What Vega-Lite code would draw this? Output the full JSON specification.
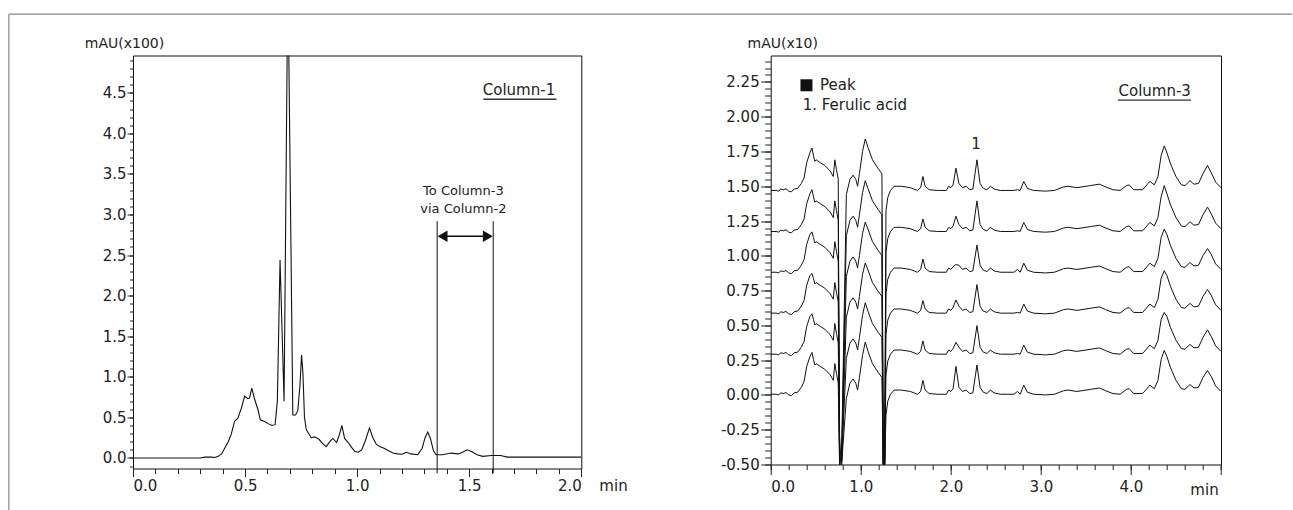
{
"$schema":"https://vega.github.io/schema/vega-lite/v6.json",
"padding":{"left":7,"top":12.5,"right":0,"bottom":0},
"background":"white",
"bounds":"flush",
"spacing":188.7,
"config":{
 "font":"DejaVu Sans",
 "view":{"stroke":"#111","strokeWidth":1},
 "axis":{"labelFont":"DejaVu Sans","labelFontSize":15,"labelColor":"#222","tickColor":"#222","titleFont":"DejaVu Sans","titleFontWeight":"normal","titleColor":"#222","titleFontSize":14,"grid":false,"domain":false},
 "text":{"font":"DejaVu Sans","color":"#222"}
},
"datasets":{
 "one":[{}],
 "left":[
  {"x":0,"y":0},{"x":0.3,"y":0},{"x":0.32,"y":0.01},{"x":0.35,"y":0.01},{"x":0.365,"y":0.005},{"x":0.38,"y":0.02},{"x":0.395,"y":0.05},{"x":0.409,"y":0.12},{"x":0.425,"y":0.2},{"x":0.438,"y":0.29},{"x":0.453,"y":0.45},{"x":0.468,"y":0.49},{"x":0.483,"y":0.61},{"x":0.498,"y":0.76},{"x":0.512,"y":0.73},{"x":0.52,"y":0.74},{"x":0.53,"y":0.86},{"x":0.543,"y":0.72},{"x":0.557,"y":0.6},{"x":0.568,"y":0.47},{"x":0.587,"y":0.45},{"x":0.605,"y":0.42},{"x":0.62,"y":0.4},{"x":0.634,"y":0.41},{"x":0.644,"y":0.7},{"x":0.656,"y":2.44},{"x":0.674,"y":0.7},{"x":0.691,"y":6.0},{"x":0.713,"y":0.53},{"x":0.725,"y":0.53},{"x":0.735,"y":0.58},{"x":0.745,"y":0.9},{"x":0.752,"y":1.27},{"x":0.758,"y":1.05},{"x":0.765,"y":0.5},{"x":0.773,"y":0.35},{"x":0.795,"y":0.25},{"x":0.81,"y":0.26},{"x":0.83,"y":0.23},{"x":0.845,"y":0.18},{"x":0.862,"y":0.14},{"x":0.878,"y":0.2},{"x":0.892,"y":0.24},{"x":0.908,"y":0.19},{"x":0.92,"y":0.28},{"x":0.932,"y":0.4},{"x":0.944,"y":0.24},{"x":0.96,"y":0.19},{"x":0.975,"y":0.13},{"x":0.99,"y":0.08},{"x":1.005,"y":0.07},{"x":1.02,"y":0.1},{"x":1.035,"y":0.2},{"x":1.055,"y":0.37},{"x":1.07,"y":0.25},{"x":1.085,"y":0.17},{"x":1.1,"y":0.14},{"x":1.12,"y":0.12},{"x":1.14,"y":0.09},{"x":1.16,"y":0.06},{"x":1.18,"y":0.05},{"x":1.2,"y":0.045},{"x":1.22,"y":0.07},{"x":1.24,"y":0.05},{"x":1.27,"y":0.04},{"x":1.29,"y":0.12},{"x":1.303,"y":0.25},{"x":1.315,"y":0.32},{"x":1.327,"y":0.24},{"x":1.34,"y":0.09},{"x":1.352,"y":0.04},{"x":1.38,"y":0.04},{"x":1.42,"y":0.06},{"x":1.45,"y":0.05},{"x":1.47,"y":0.07},{"x":1.49,"y":0.1},{"x":1.51,"y":0.08},{"x":1.535,"y":0.04},{"x":1.56,"y":0.02},{"x":1.6,"y":0.03},{"x":1.64,"y":0.03},{"x":1.67,"y":0.01},{"x":2.0,"y":0.01}
 ],
 "right":[
  {"x":0,"a":1.47,"b":1.175,"c":0.882,"d":0.588,"e":0.293,"f":0.005},
  {"x":0.06,"a":1.47,"b":1.175,"c":0.882,"d":0.588,"e":0.293,"f":0.005},
  {"x":0.09,"a":1.465,"b":1.17,"c":0.877,"d":0.583,"e":0.288,"f":0},
  {"x":0.11,"a":1.48,"b":1.185,"c":0.892,"d":0.598,"e":0.303,"f":0.015},
  {"x":0.14,"a":1.475,"b":1.18,"c":0.887,"d":0.593,"e":0.298,"f":0.01},
  {"x":0.17,"a":1.482,"b":1.187,"c":0.894,"d":0.6,"e":0.305,"f":0.017},
  {"x":0.2,"a":1.465,"b":1.17,"c":0.877,"d":0.583,"e":0.288,"f":0},
  {"x":0.23,"a":1.46,"b":1.165,"c":0.872,"d":0.578,"e":0.283,"f":-0.005},
  {"x":0.26,"a":1.48,"b":1.185,"c":0.892,"d":0.598,"e":0.303,"f":0.015},
  {"x":0.3,"a":1.485,"b":1.19,"c":0.897,"d":0.603,"e":0.308,"f":0.02},
  {"x":0.34,"a":1.52,"b":1.225,"c":0.932,"d":0.638,"e":0.343,"f":0.055},
  {"x":0.37,"a":1.56,"b":1.265,"c":0.972,"d":0.678,"e":0.383,"f":0.095},
  {"x":0.4,"a":1.67,"b":1.375,"c":1.082,"d":0.788,"e":0.493,"f":0.205},
  {"x":0.435,"a":1.74,"b":1.445,"c":1.152,"d":0.858,"e":0.563,"f":0.275},
  {"x":0.458,"a":1.775,"b":1.475,"c":1.172,"d":0.873,"e":0.583,"f":0.305},
  {"x":0.475,"a":1.72,"b":1.425,"c":1.132,"d":0.838,"e":0.543,"f":0.255},
  {"x":0.49,"a":1.68,"b":1.385,"c":1.092,"d":0.798,"e":0.503,"f":0.215},
  {"x":0.505,"a":1.69,"b":1.395,"c":1.102,"d":0.808,"e":0.513,"f":0.225},
  {"x":0.55,"a":1.67,"b":1.375,"c":1.082,"d":0.788,"e":0.493,"f":0.205},
  {"x":0.6,"a":1.65,"b":1.355,"c":1.062,"d":0.768,"e":0.473,"f":0.185},
  {"x":0.66,"a":1.61,"b":1.315,"c":1.022,"d":0.728,"e":0.433,"f":0.145},
  {"x":0.695,"a":1.57,"b":1.275,"c":0.982,"d":0.688,"e":0.393,"f":0.105},
  {"x":0.712,"a":1.69,"b":1.395,"c":1.102,"d":0.808,"e":0.513,"f":0.225},
  {"x":0.73,"a":1.62,"b":1.325,"c":1.032,"d":0.738,"e":0.443,"f":0.155},
  {"x":0.75,"a":1.55,"b":1.255,"c":0.962,"d":0.668,"e":0.373,"f":0.085},
  {"x":0.765,"a":-0.52,"b":-0.52,"c":-0.3,"d":-0.52,"e":-0.4,"f":-0.52},
  {"x":0.785,"a":-0.52,"b":-0.52,"c":-0.52,"d":-0.52,"e":-0.52,"f":-0.52},
  {"x":0.84,"a":1.44,"b":1.145,"c":0.852,"d":0.558,"e":0.263,"f":-0.025},
  {"x":0.88,"a":1.55,"b":1.255,"c":0.962,"d":0.668,"e":0.373,"f":0.085},
  {"x":0.915,"a":1.58,"b":1.285,"c":0.992,"d":0.698,"e":0.403,"f":0.115},
  {"x":0.945,"a":1.55,"b":1.255,"c":0.962,"d":0.668,"e":0.373,"f":0.085},
  {"x":0.965,"a":1.5,"b":1.205,"c":0.912,"d":0.618,"e":0.323,"f":0.035},
  {"x":0.985,"a":1.59,"b":1.295,"c":1.002,"d":0.708,"e":0.413,"f":0.125},
  {"x":1.02,"a":1.75,"b":1.455,"c":1.162,"d":0.868,"e":0.573,"f":0.285},
  {"x":1.05,"a":1.84,"b":1.54,"c":1.242,"d":0.948,"e":0.663,"f":0.38},
  {"x":1.08,"a":1.78,"b":1.485,"c":1.192,"d":0.898,"e":0.603,"f":0.315},
  {"x":1.13,"a":1.69,"b":1.395,"c":1.102,"d":0.808,"e":0.513,"f":0.225},
  {"x":1.19,"a":1.63,"b":1.335,"c":1.042,"d":0.748,"e":0.453,"f":0.165},
  {"x":1.235,"a":1.59,"b":1.295,"c":1.002,"d":0.708,"e":0.413,"f":0.125},
  {"x":1.25,"a":-0.52,"b":-0.52,"c":-0.52,"d":-0.52,"e":-0.52,"f":-0.52},
  {"x":1.265,"a":-0.52,"b":-0.52,"c":-0.52,"d":-0.52,"e":-0.52,"f":-0.52},
  {"x":1.28,"a":1.32,"b":1.025,"c":0.732,"d":0.438,"e":0.143,"f":-0.145},
  {"x":1.3,"a":1.42,"b":1.125,"c":0.832,"d":0.538,"e":0.243,"f":-0.045},
  {"x":1.33,"a":1.47,"b":1.175,"c":0.882,"d":0.588,"e":0.293,"f":0.005},
  {"x":1.37,"a":1.5,"b":1.205,"c":0.912,"d":0.618,"e":0.323,"f":0.035},
  {"x":1.45,"a":1.5,"b":1.205,"c":0.912,"d":0.618,"e":0.323,"f":0.035},
  {"x":1.55,"a":1.49,"b":1.195,"c":0.902,"d":0.608,"e":0.313,"f":0.025},
  {"x":1.63,"a":1.47,"b":1.175,"c":0.882,"d":0.588,"e":0.293,"f":0.005},
  {"x":1.665,"a":1.49,"b":1.195,"c":0.902,"d":0.608,"e":0.313,"f":0.025},
  {"x":1.69,"a":1.57,"b":1.265,"c":0.977,"d":0.678,"e":0.388,"f":0.105},
  {"x":1.715,"a":1.5,"b":1.205,"c":0.912,"d":0.618,"e":0.323,"f":0.035},
  {"x":1.76,"a":1.475,"b":1.18,"c":0.887,"d":0.593,"e":0.298,"f":0.01},
  {"x":1.85,"a":1.47,"b":1.175,"c":0.882,"d":0.588,"e":0.293,"f":0.005},
  {"x":1.95,"a":1.47,"b":1.175,"c":0.882,"d":0.588,"e":0.293,"f":0.005},
  {"x":1.975,"a":1.5,"b":1.205,"c":0.912,"d":0.618,"e":0.323,"f":0.035},
  {"x":2.0,"a":1.49,"b":1.195,"c":0.902,"d":0.608,"e":0.313,"f":0.025},
  {"x":2.025,"a":1.51,"b":1.215,"c":0.922,"d":0.628,"e":0.333,"f":0.045},
  {"x":2.057,"a":1.63,"b":1.285,"c":0.937,"d":0.683,"e":0.378,"f":0.205},
  {"x":2.09,"a":1.52,"b":1.225,"c":0.932,"d":0.638,"e":0.343,"f":0.055},
  {"x":2.13,"a":1.49,"b":1.195,"c":0.902,"d":0.608,"e":0.313,"f":0.025},
  {"x":2.17,"a":1.5,"b":1.205,"c":0.912,"d":0.618,"e":0.323,"f":0.035},
  {"x":2.21,"a":1.475,"b":1.18,"c":0.887,"d":0.593,"e":0.298,"f":0.01},
  {"x":2.245,"a":1.48,"b":1.185,"c":0.892,"d":0.598,"e":0.303,"f":0.015},
  {"x":2.29,"a":1.69,"b":1.395,"c":1.077,"d":0.793,"e":0.498,"f":0.215},
  {"x":2.325,"a":1.52,"b":1.225,"c":0.932,"d":0.638,"e":0.343,"f":0.055},
  {"x":2.36,"a":1.485,"b":1.19,"c":0.897,"d":0.603,"e":0.308,"f":0.02},
  {"x":2.4,"a":1.475,"b":1.18,"c":0.887,"d":0.593,"e":0.298,"f":0.01},
  {"x":2.44,"a":1.5,"b":1.205,"c":0.912,"d":0.618,"e":0.323,"f":0.035},
  {"x":2.48,"a":1.48,"b":1.185,"c":0.892,"d":0.598,"e":0.303,"f":0.015},
  {"x":2.55,"a":1.47,"b":1.175,"c":0.882,"d":0.588,"e":0.293,"f":0.005},
  {"x":2.7,"a":1.47,"b":1.175,"c":0.882,"d":0.588,"e":0.293,"f":0.005},
  {"x":2.74,"a":1.475,"b":1.18,"c":0.902,"d":0.593,"e":0.298,"f":0.025},
  {"x":2.77,"a":1.47,"b":1.175,"c":0.882,"d":0.588,"e":0.293,"f":0.005},
  {"x":2.81,"a":1.535,"b":1.24,"c":0.947,"d":0.653,"e":0.358,"f":0.07},
  {"x":2.85,"a":1.485,"b":1.19,"c":0.897,"d":0.603,"e":0.308,"f":0.02},
  {"x":2.92,"a":1.47,"b":1.175,"c":0.882,"d":0.588,"e":0.293,"f":0.005},
  {"x":3.05,"a":1.465,"b":1.17,"c":0.877,"d":0.583,"e":0.288,"f":0},
  {"x":3.15,"a":1.47,"b":1.175,"c":0.882,"d":0.588,"e":0.293,"f":0.005},
  {"x":3.25,"a":1.495,"b":1.2,"c":0.907,"d":0.613,"e":0.318,"f":0.03},
  {"x":3.3,"a":1.5,"b":1.205,"c":0.912,"d":0.618,"e":0.323,"f":0.035},
  {"x":3.4,"a":1.49,"b":1.195,"c":0.902,"d":0.608,"e":0.313,"f":0.025},
  {"x":3.55,"a":1.505,"b":1.21,"c":0.917,"d":0.623,"e":0.328,"f":0.04},
  {"x":3.65,"a":1.515,"b":1.22,"c":0.927,"d":0.633,"e":0.338,"f":0.05},
  {"x":3.72,"a":1.495,"b":1.2,"c":0.907,"d":0.613,"e":0.318,"f":0.03},
  {"x":3.8,"a":1.475,"b":1.18,"c":0.887,"d":0.593,"e":0.298,"f":0.01},
  {"x":3.88,"a":1.47,"b":1.175,"c":0.882,"d":0.588,"e":0.293,"f":0.005},
  {"x":3.95,"a":1.505,"b":1.21,"c":0.917,"d":0.623,"e":0.328,"f":0.04},
  {"x":3.98,"a":1.51,"b":1.215,"c":0.922,"d":0.628,"e":0.333,"f":0.045},
  {"x":4.03,"a":1.475,"b":1.18,"c":0.887,"d":0.593,"e":0.298,"f":0.01},
  {"x":4.13,"a":1.475,"b":1.18,"c":0.887,"d":0.593,"e":0.298,"f":0.01},
  {"x":4.21,"a":1.535,"b":1.24,"c":0.947,"d":0.653,"e":0.358,"f":0.07},
  {"x":4.26,"a":1.51,"b":1.215,"c":0.922,"d":0.628,"e":0.333,"f":0.045},
  {"x":4.3,"a":1.57,"b":1.275,"c":0.982,"d":0.688,"e":0.393,"f":0.105},
  {"x":4.335,"a":1.72,"b":1.425,"c":1.132,"d":0.838,"e":0.543,"f":0.255},
  {"x":4.37,"a":1.79,"b":1.505,"c":1.192,"d":0.893,"e":0.593,"f":0.32},
  {"x":4.4,"a":1.74,"b":1.445,"c":1.152,"d":0.858,"e":0.563,"f":0.275},
  {"x":4.44,"a":1.66,"b":1.365,"c":1.072,"d":0.778,"e":0.483,"f":0.195},
  {"x":4.5,"a":1.57,"b":1.275,"c":0.982,"d":0.688,"e":0.393,"f":0.105},
  {"x":4.56,"a":1.51,"b":1.215,"c":0.922,"d":0.628,"e":0.333,"f":0.045},
  {"x":4.6,"a":1.505,"b":1.21,"c":0.917,"d":0.623,"e":0.328,"f":0.04},
  {"x":4.655,"a":1.54,"b":1.245,"c":0.952,"d":0.658,"e":0.363,"f":0.075},
  {"x":4.7,"a":1.515,"b":1.22,"c":0.927,"d":0.633,"e":0.338,"f":0.05},
  {"x":4.75,"a":1.52,"b":1.225,"c":0.932,"d":0.638,"e":0.343,"f":0.055},
  {"x":4.8,"a":1.59,"b":1.295,"c":1.002,"d":0.708,"e":0.413,"f":0.125},
  {"x":4.85,"a":1.65,"b":1.35,"c":1.052,"d":0.758,"e":0.468,"f":0.175},
  {"x":4.89,"a":1.6,"b":1.305,"c":1.012,"d":0.718,"e":0.423,"f":0.135},
  {"x":4.94,"a":1.53,"b":1.235,"c":0.942,"d":0.648,"e":0.353,"f":0.065},
  {"x":5.0,"a":1.49,"b":1.195,"c":0.902,"d":0.608,"e":0.313,"f":0.025}
 ]
},
"hconcat":[
 {
  "width":448.3,"height":413,
  "layer":[
   {"data":{"name":"left"},
    "mark":{"type":"line","color":"#111","strokeWidth":1.1,"clip":true},
    "encoding":{
     "x":{"field":"x","type":"quantitative","scale":{"domain":[0,2],"nice":false,"zero":false},
          "axis":{"orient":"bottom","values":[0,0.5,1,1.5,2],"format":".1f","tickSize":8,"labelPadding":2,"title":"min","titleX":480,"titleY":17,"titleAlign":"center","titleBaseline":"middle","titleFontSize":15}},
     "y":{"field":"y","type":"quantitative","scale":{"domain":[-0.13,4.96],"nice":false,"zero":false},
          "axis":{"orient":"left","values":[0,0.5,1,1.5,2,2.5,3,3.5,4,4.5],"format":".1f","tickSize":6,"labelPadding":1,"title":"mAU(x100)","titleAngle":0,"titleX":-48.7,"titleY":-11.6,"titleAlign":"left","titleBaseline":"middle"}}}},
   {"data":{"name":"left"},
    "mark":{"type":"point","opacity":0,"clip":true},
    "encoding":{
     "x":{"field":"x","type":"quantitative","axis":{"orient":"bottom","values":[0,0.1,0.2,0.3,0.4,0.5,0.6,0.7,0.8,0.9,1,1.1,1.2,1.3,1.4,1.5,1.6,1.7,1.8,1.9,2],"labels":false,"tickSize":5,"title":null}},
     "y":{"field":"y","type":"quantitative","axis":{"orient":"left","values":[-0.1,0,0.1,0.2,0.3,0.4,0.5,0.6,0.7,0.8,0.9,1,1.1,1.2,1.3,1.4,1.5,1.6,1.7,1.8,1.9,2,2.1,2.2,2.3,2.4,2.5,2.6,2.7,2.8,2.9,3,3.1,3.2,3.3,3.4,3.5,3.6,3.7,3.8,3.9,4,4.1,4.2,4.3,4.4,4.5,4.6,4.7,4.8,4.9],"labels":false,"tickSize":3.5,"title":null}}}},
   {"data":{"name":"one"},
    "mark":{"type":"rule","color":"#8a8a8a","strokeWidth":1.2},
    "encoding":{"x":{"datum":-0.554,"type":"quantitative","axis":null},"x2":{"datum":5.172},"y":{"datum":5.469,"type":"quantitative","axis":null}}},
   {"data":{"name":"one"},
    "mark":{"type":"rule","color":"#8a8a8a","strokeWidth":1.2},
    "encoding":{"x":{"datum":-0.554,"type":"quantitative","axis":null},"y":{"datum":5.469,"type":"quantitative","axis":null},"y2":{"datum":-0.644}}},
   {"data":{"values":[{"x":1.357},{"x":1.607}]},
    "mark":{"type":"rule","color":"#111","strokeWidth":1},
    "encoding":{"x":{"field":"x","type":"quantitative","axis":null},"y":{"datum":2.918,"type":"quantitative","axis":null},"y2":{"datum":-0.188}}},
   {"data":{"name":"one"},
    "mark":{"type":"rule","color":"#111","strokeWidth":1.5},
    "encoding":{"x":{"datum":1.385,"type":"quantitative","axis":null},"x2":{"datum":1.58},"y":{"datum":2.733,"type":"quantitative","axis":null}}},
   {"data":{"values":[{"x":1.381,"s":"triangle-left"},{"x":1.583,"s":"triangle-right"}]},
    "mark":{"type":"point","filled":true,"color":"#111","opacity":1,"size":130},
    "encoding":{"x":{"field":"x","type":"quantitative","axis":null},"y":{"datum":2.733,"type":"quantitative","axis":null},"shape":{"field":"s","type":"nominal","scale":null}}},
   {"data":{"values":[{"x":1.474,"y":3.288,"t":"To Column-3"},{"x":1.474,"y":3.066,"t":"via Column-2"}]},
    "mark":{"type":"text","fontSize":13,"align":"center","baseline":"middle"},
    "encoding":{"x":{"field":"x","type":"quantitative","axis":null},"y":{"field":"y","type":"quantitative","axis":null},"text":{"field":"t"}}},
   {"data":{"values":[{"x":1.722,"y":4.532,"t":"Column-1"}]},
    "mark":{"type":"text","fontSize":15,"align":"center","baseline":"middle"},
    "encoding":{"x":{"field":"x","type":"quantitative","axis":null},"y":{"field":"y","type":"quantitative","axis":null},"text":{"field":"t"}}},
   {"data":{"name":"one"},
    "mark":{"type":"rule","color":"#333","strokeWidth":1.3},
    "encoding":{"x":{"datum":1.563,"type":"quantitative","axis":null},"x2":{"datum":1.889},"y":{"datum":4.421,"type":"quantitative","axis":null}}}
  ],
  "resolve":{"axis":{"x":"independent","y":"independent"}}
 },
 {
  "width":450.3,"height":409,
  "layer":[
   {"data":{"name":"right"},
    "transform":[{"fold":["a","b","c","d","e","f"],"as":["trace","v"]}],
    "mark":{"type":"line","color":"#111","strokeWidth":1,"clip":true},
    "encoding":{
     "x":{"field":"x","type":"quantitative","scale":{"domain":[0,5],"nice":false,"zero":false},
          "axis":{"orient":"bottom","values":[0,1,2,3,4,5],"format":".1f","labelExpr":"datum.value >= 5 ? '' : datum.label","tickSize":10,"labelPadding":5,"title":"min","titleX":433.3,"titleY":24.7,"titleAlign":"center","titleBaseline":"middle","titleFontSize":15}},
     "y":{"field":"v","type":"quantitative","scale":{"domain":[-0.5,2.44],"nice":false,"zero":false},
          "axis":{"orient":"left","values":[-0.5,-0.25,0,0.25,0.5,0.75,1,1.25,1.5,1.75,2,2.25],"format":".2f","labelExpr":"replace(datum.label, '−', '-')","tickSize":10,"labelPadding":1.5,"title":"mAU(x10)","titleAngle":0,"titleX":-23.7,"titleY":-11.6,"titleAlign":"left","titleBaseline":"middle"}},
     "detail":{"field":"trace","type":"nominal"}}},
   {"data":{"name":"right"},
    "mark":{"type":"point","opacity":0,"clip":true},
    "encoding":{
     "x":{"field":"x","type":"quantitative","axis":{"orient":"bottom","values":[0,0.2,0.4,0.6,0.8,1,1.2,1.4,1.6,1.8,2,2.2,2.4,2.6,2.8,3,3.2,3.4,3.6,3.8,4,4.2,4.4,4.6,4.8,5],"labels":false,"tickSize":5,"title":null}},
     "y":{"field":"a","type":"quantitative","axis":{"orient":"left","values":[-0.5,-0.45,-0.4,-0.35,-0.3,-0.25,-0.2,-0.15,-0.1,-0.05,0,0.05,0.1,0.15,0.2,0.25,0.3,0.35,0.4,0.45,0.5,0.55,0.6,0.65,0.7,0.75,0.8,0.85,0.9,0.95,1,1.05,1.1,1.15,1.2,1.25,1.3,1.35,1.4,1.45,1.5,1.55,1.6,1.65,1.7,1.75,1.8,1.85,1.9,1.95,2,2.05,2.1,2.15,2.2,2.25,2.3,2.35,2.4],"labels":false,"tickSize":6,"title":null}}}},
   {"data":{"values":[{"x":0.397,"y":2.226}]},
    "mark":{"type":"point","shape":"square","filled":true,"color":"#111","opacity":1,"size":144},
    "encoding":{"x":{"field":"x","type":"quantitative","axis":null},"y":{"field":"y","type":"quantitative","axis":null}}},
   {"data":{"values":[{"x":0.547,"y":2.226,"t":"Peak"},{"x":0.355,"y":2.083,"t":"1. Ferulic acid"}]},
    "mark":{"type":"text","fontSize":15,"align":"left","baseline":"middle"},
    "encoding":{"x":{"field":"x","type":"quantitative","axis":null},"y":{"field":"y","type":"quantitative","axis":null},"text":{"field":"t"}}},
   {"data":{"values":[{"x":2.28,"y":1.802,"t":"1"}]},
    "mark":{"type":"text","fontSize":15,"align":"center","baseline":"middle"},
    "encoding":{"x":{"field":"x","type":"quantitative","axis":null},"y":{"field":"y","type":"quantitative","axis":null},"text":{"field":"t"}}},
   {"data":{"values":[{"x":4.264,"y":2.183,"t":"Column-3"}]},
    "mark":{"type":"text","fontSize":15,"align":"center","baseline":"middle"},
    "encoding":{"x":{"field":"x","type":"quantitative","axis":null},"y":{"field":"y","type":"quantitative","axis":null},"text":{"field":"t"}}},
   {"data":{"name":"one"},
    "mark":{"type":"rule","color":"#333","strokeWidth":1.3},
    "encoding":{"x":{"datum":3.855,"type":"quantitative","axis":null},"x2":{"datum":4.667},"y":{"datum":2.119,"type":"quantitative","axis":null}}}
  ],
  "resolve":{"axis":{"x":"independent","y":"independent"}}
 }
]
}
